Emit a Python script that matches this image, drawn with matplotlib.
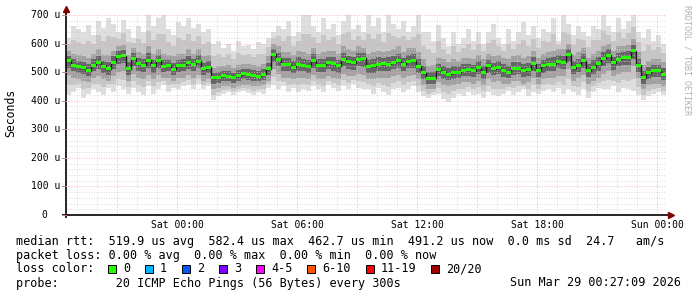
import numpy as np
import matplotlib
matplotlib.use("Agg")
import matplotlib.pyplot as plt
from matplotlib.patches import Rectangle

# time axis: hours relative to Sat 00:00, one column per 15 minutes
T_START = -5.55
T_STEP = 0.25

# round trip times in microseconds per column
median_us = [
    540, 525, 520, 515, 505, 525, 535, 520, 512, 535, 555, 558,
    512, 548, 530, 525, 542, 522, 540, 520, 525, 510, 522, 525,
    535, 528, 538, 512, 518, 480, 482, 487, 486, 482, 488, 494,
    493, 490, 486, 492, 512, 562, 545, 528, 526, 518, 528, 525,
    520, 540, 524, 524, 534, 530, 522, 545, 536, 533, 546, 548,
    520, 522, 528, 530, 528, 535, 540, 528, 538, 540, 520, 498,
    478, 478, 508, 500, 493, 498, 500, 507, 508, 505, 515, 500,
    522, 512, 515, 505, 500, 513, 514, 505, 510, 530, 505, 522,
    528, 528, 538, 535, 562, 515, 525, 540, 505, 518, 530, 548,
    560, 533, 545, 550, 552, 575, 525, 480, 498, 505, 505, 492,
]
max_us = [
    620, 660, 650, 640, 665, 630, 680, 655, 690, 670, 640, 682,
    650, 620, 660, 640, 700, 660, 690, 700, 650, 630, 675, 660,
    690, 655, 670, 640, 650, 600, 610, 585, 600, 575, 610, 590,
    595, 580, 605, 600, 620, 640, 660, 650, 680, 625, 640, 700,
    700, 660, 640, 690, 650, 670, 630, 680, 700, 650, 665, 640,
    700, 660, 690, 640, 700, 670, 650, 680, 640, 660, 700, 640,
    640, 610, 665, 620, 590, 640, 600, 620, 650, 610, 640, 600,
    640, 670, 620, 600, 650, 610, 640, 675, 630, 660, 620, 650,
    640, 690, 610, 700, 670, 630, 660, 640, 625, 660, 650, 700,
    660, 640, 690, 650, 680, 700, 640, 620, 650, 610, 630, 600,
]
min_us = [
    420, 430, 445, 410, 425, 440, 430, 420, 445, 430, 450, 440,
    425, 445, 430, 420, 450, 425, 440, 455, 430, 445, 440, 450,
    455, 440, 460, 440, 450, 402, 415, 425, 430, 420, 430, 435,
    428, 420, 430, 425, 445, 455, 440, 450, 430, 445, 430, 440,
    435, 450, 440, 430, 455, 445, 435, 450, 440, 460, 445, 440,
    440, 425, 445, 430, 420, 440, 445, 430, 440, 450, 430, 415,
    410, 420, 425, 405, 395, 410, 425, 415, 430, 420, 425, 410,
    430, 420, 415, 425, 435, 420, 430, 440, 415, 430, 425, 435,
    440, 430, 445, 425, 440, 430, 420, 440, 410, 430, 445, 440,
    440, 450, 430, 445, 440, 435, 420, 402, 415, 425, 430, 420,
]
upper_us = [
    575, 565, 560, 555, 550, 565, 580, 560, 560, 575, 590, 595,
    560, 585, 570, 565, 590, 565, 580, 565, 560, 555, 565, 565,
    580, 565, 580, 555, 560, 515, 520, 520, 525, 515, 525, 530,
    530, 525, 520, 530, 555, 600, 590, 570, 570, 560, 575, 570,
    565, 585, 565, 570, 575, 575, 565, 590, 580, 575, 590, 585,
    565, 570, 575, 570, 575, 580, 590, 570, 585, 585, 570, 545,
    520, 525, 550, 545, 535, 545, 540, 550, 550, 545, 560, 545,
    565, 555, 560, 550, 545, 555, 560, 550, 555, 575, 550, 565,
    570, 575, 580, 580, 600, 560, 570, 585, 550, 565, 575, 590,
    600, 575, 590, 590, 595, 615, 570, 525, 540, 545, 545, 535,
]
lower_us = [
    490, 480, 475, 470, 465, 480, 485, 475, 470, 485, 500, 505,
    470, 495, 480, 475, 490, 475, 490, 480, 480, 470, 480, 480,
    490, 480, 490, 470, 475, 440, 445, 450, 450, 445, 450, 455,
    455, 450, 450, 455, 470, 510, 495, 480, 480, 475, 480, 480,
    475, 490, 475, 475, 485, 480, 475, 495, 485, 485, 495, 490,
    475, 475, 480, 480, 478, 485, 490, 480, 488, 490, 475, 455,
    440, 440, 465, 455, 450, 455, 460, 465, 465, 460, 470, 455,
    475, 465, 470, 460, 458, 468, 470, 460, 465, 480, 460, 475,
    480, 480, 488, 485, 510, 470, 478, 490, 460, 470, 480, 495,
    505, 485, 495, 500, 500, 520, 478, 440, 455, 460, 460, 450,
]

x_tick_hours = [0, 6, 12, 18, 24]
x_tick_labels = ["Sat 00:00", "Sat 06:00", "Sat 12:00", "Sat 18:00", "Sun 00:00"]
y_tick_values = [0, 100, 200, 300, 400, 500, 600, 700]
y_tick_labels = ["0  ", "100 u", "200 u", "300 u", "400 u", "500 u", "600 u", "700 u"]

stats_line = "median rtt:  519.9 us avg  582.4 us max  462.7 us min  491.2 us now  0.0 ms sd  24.7   am/s"
loss_line = "packet loss: 0.00 % avg  0.00 % max  0.00 % min  0.00 % now"
loss_labels = ["0", "1", "2", "3", "4-5", "6-10", "11-19", "20/20"]
loss_colors = ["#26ff00", "#00b8ff", "#0059ff", "#7e00ff",
               "#ff00ff", "#ff5500", "#ff0000", "#a10000"]
probe_line = "probe:        20 ICMP Echo Pings (56 Bytes) every 300s"
stamp = "Sun Mar 29 00:27:09 2026"

W, H = 697, 297
MONO = "DejaVu Sans Mono"


def fx(px):
    return px / W


def fy(py):
    return 1 - py / H


fig = plt.figure(figsize=(W / 100, H / 100), dpi=100)
fig.patch.set_facecolor("white")
ax = fig.add_axes([fx(66), fy(215), 600 / W, 200 / H])

med = np.array(median_us, dtype=float)
lo = np.array(min_us, dtype=float)
hi = np.array(max_us, dtype=float)
dn = np.array(lower_us, dtype=float)
up = np.array(upper_us, dtype=float)
n = len(med)
edges = T_START + T_STEP * np.arange(n + 1)


def ext(a):
    a = np.asarray(a, dtype=float)
    return np.append(a, a[-1])


t_end = edges[-1]
ax.set_xlim(T_START, t_end)
ax.set_ylim(0, 700)
for s in ax.spines.values():
    s.set_visible(False)

# smoke, light outside to dark near the median
bands = [
    (lo, hi, "#dedede"),
    ((lo + dn) / 2, (hi + up) / 2, "#c6c6c6"),
    (dn, up, "#a2a2a2"),
    ((dn + med) / 2, (up + med) / 2, "#666666"),
]
for k, (b0, b1, col) in enumerate(bands):
    ax.fill_between(edges, ext(b0), ext(b1), step="post",
                    color=col, lw=0, zorder=1 + 0.1 * k)

# grid, drawn over the smoke like rrdtool does
dots = (0, (1, 2))
for v in range(20, 700, 20):
    if v % 100:
        ax.axhline(v, color="#cfcfcf", lw=0.6, ls=dots, zorder=2)
for h in range(int(np.ceil(T_START)), int(t_end) + 1):
    if h % 3:
        ax.axvline(h, color="#cfcfcf", lw=0.6, ls=dots, zorder=2)
for v in range(100, 701, 100):
    ax.axhline(v, color="#eba3a3", lw=0.6, ls=dots, zorder=2.1)
for h in range(-3, int(t_end) + 1, 3):
    ax.axvline(h, color="#eba3a3", lw=0.6, ls=dots, zorder=2.1)

# median: dark step line plus loss coloured bars
ax.step(edges, ext(med), where="post", color="#1a1a1a", lw=1.0, zorder=3)
ax.bar(edges[:-1], 10.5, bottom=med - 5.25, width=T_STEP, align="edge",
       color=loss_colors[0], lw=0, zorder=4)

# axes with arrows
ax.plot([T_START - 0.2, 24.65], [0, 0], color="black", lw=1.2,
        clip_on=False, zorder=5, solid_capstyle="butt")
ax.plot([T_START, T_START], [-10, 715], color="black", lw=1.2,
        clip_on=False, zorder=5, solid_capstyle="butt")
ax.plot([24.72], [0], marker=">", color="#800000", ms=4.5, clip_on=False, zorder=6)
ax.plot([T_START], [721], marker="^", color="#800000", ms=4.5, clip_on=False, zorder=6)

ax.set_xticks([])
ax.set_yticks([])

for h, lab in zip(x_tick_hours, x_tick_labels):
    px = 177 + 20 * h
    fig.text(fx(px), fy(225), lab, ha="center", va="center",
             fontsize=7, family=MONO)
for v, lab in zip(y_tick_values, y_tick_labels):
    py = 215 - v / 3.5
    fig.text(fx(60), fy(py), lab, ha="right", va="center",
             fontsize=7, family=MONO)
    fig.add_artist(plt.Line2D([fx(62), fx(66)], [fy(py), fy(py)],
                              color="#d08080", lw=0.7))

fig.text(fx(11), fy(113), "Seconds", rotation=90, ha="center", va="center",
         fontsize=8.3, family=MONO)
fig.text(fx(687), fy(60), "RRDTOOL / TOBI OETIKER", rotation=270,
         ha="center", va="center", fontsize=6, family=MONO, color="#b0b0b0")

# legend block
FS = 8.5
fig.text(fx(16), fy(241), stats_line, ha="left", va="center", fontsize=FS, family=MONO)
fig.text(fx(16), fy(255), loss_line, ha="left", va="center", fontsize=FS, family=MONO)
fig.text(fx(16), fy(269), "loss color:", ha="left", va="center", fontsize=FS, family=MONO)
bx = 108
for lab, col in zip(loss_labels, loss_colors):
    fig.add_artist(Rectangle((fx(bx), fy(273)), 8 / W, 8 / H,
                             facecolor=col, edgecolor="black", lw=0.7))
    fig.text(fx(bx + 15), fy(269), lab, ha="left", va="center",
             fontsize=FS, family=MONO)
    bx = bx + 15 + 7.05 * len(lab) + 15
fig.text(fx(16), fy(283), probe_line, ha="left", va="center", fontsize=FS, family=MONO)
fig.text(fx(681), fy(283), stamp, ha="right", va="center", fontsize=FS, family=MONO)

fig.savefig("out.png", dpi=100, facecolor="white")
